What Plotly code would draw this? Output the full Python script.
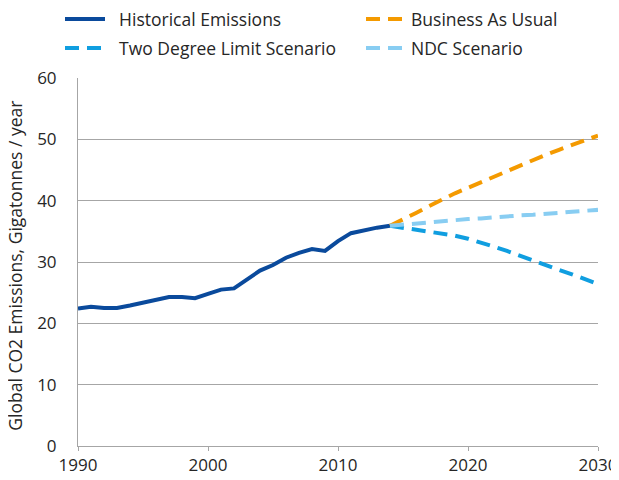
import plotly.graph_objects as go

# -------------------- DATA --------------------
hist_years = list(range(1990, 2015))
hist_values = [22.4, 22.7, 22.5, 22.5, 22.9, 23.4, 23.9, 24.3, 24.3, 24.1,
               24.8, 25.5, 25.7, 27.2, 28.6, 29.5, 30.7, 31.5, 32.1, 31.8,
               33.4, 34.7, 35.2, 35.6, 35.9]

scen_years = list(range(2014, 2031))
bau_values = [35.9, 36.9, 38.0, 39.1, 40.2, 41.2, 42.1, 43.0, 44.0, 44.9,
              45.8, 46.7, 47.5, 48.3, 49.1, 49.9, 50.6]
two_degree_values = [35.9, 35.6, 35.3, 35.0, 34.7, 34.3, 33.8, 33.2, 32.5, 31.8,
                     31.0, 30.2, 29.4, 28.7, 28.0, 27.2, 26.4]
ndc_values = [35.9, 36.1, 36.3, 36.5, 36.6, 36.8, 37.0, 37.1, 37.3, 37.4,
              37.6, 37.7, 37.8, 38.0, 38.2, 38.3, 38.5]

x_ticks = [1990, 2000, 2010, 2020, 2030]
y_ticks = [0, 10, 20, 30, 40, 50, 60]

FONT = 'Open Sans'
TEXT = '#262626'
GRID = '#a6a6a6'
DASH = '14px,8px'
SP = '\u00a0\u00a0'  # left column has a wider gap between line and label

W, H = 611, 472  # page body margin takes the rest of the 619x480 window

# -------------------- CHART --------------------
fig = go.Figure()

fig.add_trace(go.Scatter(x=hist_years, y=hist_values, name=SP + 'Historical Emissions',
                         mode='lines', legend='legend', showlegend=True,
                         line=dict(width=4, color='#0a4a9c')))
fig.add_trace(go.Scatter(x=scen_years, y=bau_values, name='Business As Usual',
                         mode='lines', legend='legend2', showlegend=True,
                         line=dict(width=4, color='#f49a00', dash=DASH)))
fig.add_trace(go.Scatter(x=scen_years, y=two_degree_values, name=SP + 'Two Degree Limit Scenario',
                         mode='lines', legend='legend3', showlegend=True,
                         line=dict(width=4, color='#109ee0', dash=DASH)))
fig.add_trace(go.Scatter(x=scen_years, y=ndc_values, name='NDC Scenario',
                         mode='lines', legend='legend4', showlegend=True,
                         line=dict(width=4, color='#88cdf2', dash=DASH)))

fig.update_xaxes(range=[1990, 2030], tickvals=x_ticks, showgrid=False,
                 showline=True, linecolor=GRID, linewidth=1,
                 ticks='outside', ticklen=4, tickcolor=GRID,
                 automargin=False, ticklabeloverflow='allow',
                 tickfont=dict(family=FONT, size=17, color=TEXT))
fig.update_yaxes(range=[0, 60], tickvals=y_ticks, showgrid=True, gridcolor=GRID,
                 gridwidth=1, showline=True, linecolor=GRID, linewidth=1,
                 zeroline=False, ticks='', ticklabelstandoff=17, automargin=False,
                 tickfont=dict(family=FONT, size=17, color=TEXT))

fig.add_annotation(text='Global CO2 Emissions, Gigatonnes / year', textangle=-90,
                   xref='paper', yref='paper', x=0, y=0.49, xshift=-63,
                   xanchor='center', yanchor='middle',
                   showarrow=False, font=dict(family=FONT, size=17.5, color=TEXT))

legend_style = dict(orientation='h', xref='container', yref='container',
                    xanchor='left', yanchor='middle', itemwidth=40,
                    font=dict(family=FONT, size=17.5, color=TEXT),
                    bgcolor='rgba(0,0,0,0)')
col1, col2 = 52 / W, 353 / W
row1, row2 = 1 - 11 / H, 1 - 40 / H

fig.update_layout(
    width=W, height=H, showlegend=True,
    margin=dict(l=70, r=21, t=70, b=34, autoexpand=False),
    plot_bgcolor='white', paper_bgcolor='white',
    legend=dict(legend_style, x=col1, y=row1),
    legend2=dict(legend_style, x=col2, y=row1),
    legend3=dict(legend_style, x=col1, y=row2),
    legend4=dict(legend_style, x=col2, y=row2),
)

fig.write_html("out.html")
